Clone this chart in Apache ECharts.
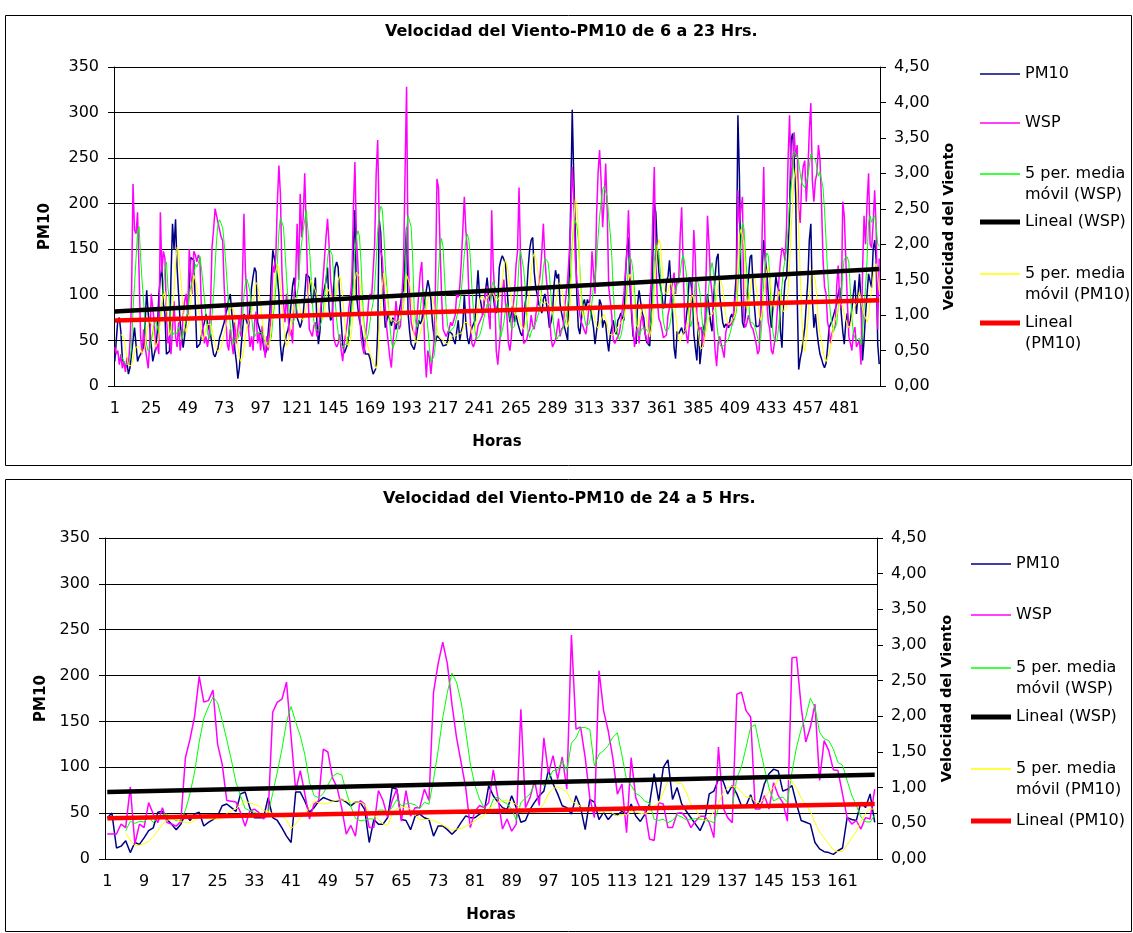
<!DOCTYPE html>
<html>
<head>
<meta charset="utf-8">
<title>Velocidad del Viento-PM10</title>
<script src="https://cdn.jsdelivr.net/npm/echarts@6/dist/echarts.min.js"></script>
<style>
  html, body { margin: 0; padding: 0; background: #fff; }
  #chart { width: 1133px; height: 933px; }
</style>
</head>
<body>
<div id="chart"></div>
<script>
// ---- data: 6 a 23 Hrs (504 horas) ----
var pm10Top = [
  27,50,72,75,60,30,24,20,25,13, 20,35,50,64,45,27,32,35,38,42,
  70,105,80,64,45,27,35,42,60,100, 119,130,90,79,35,36,38,120,178,150,
  183,130,101,70,55,42,55,72,80,110, 141,140,138,90,42,44,46,55,64,70,
  79,70,62,57,45,35,32,31,42,53, 58,64,70,79,85,95,101,80,64,40,
  27,8,20,40,60,79,75,70,64,85, 108,120,130,125,70,64,58,53,42,35,
  40,42,80,120,149,140,138,120,101,45, 27,42,48,57,62,72,90,110,119,95,
  75,70,64,70,79,100,123,121,119,
  119,90,100,119,70,46,60,90,100,100, 115,130,85,72,75,110,130,136,130,100,
  70,45,36,35,45,56,80,100,150,193, 100,85,72,65,55,42,35,36,35,30,
  20,13,12,20,60,182,168,120,90,64, 72,80,72,66,75,70,62,72,80,90,
  101,105,140,174,80,60,46,44,40,48, 60,72,68,72,83,95,105,116,108,95,
  70,55,48,55,53,52,48,44,42,45, 50,60,62,57,50,46,60,72,50,60,
  66,100,70,53,46,55,64,68,72,100, 127,100,90,78,90,105,119,100,93,108,
  100,85,80,90,130,138,143,145,
  135,110,85,70,80,90,70,78,70,64, 58,55,64,90,101,130,150,160,163,125,
  108,100,90,85,80,95,101,101,80,64, 70,79,110,127,118,123,90,80,72,64,
  57,50,120,200,303,230,170,100,64,57, 72,90,95,85,95,90,85,75,64,46,
  60,72,95,90,64,72,68,50,38,55, 64,72,60,57,72,75,80,75,72,120,
  150,163,110,80,55,50,46,90,105,103, 80,75,57,48,46,44,80,140,200,190,
  150,125,110,100,85,90,115,120,138,110, 80,42,30,60,57,55,64,57,60,75,
  90,119,115,100,57,42,28,70,
  24,40,60,62,75,101,85,70,60,95, 120,140,145,101,85,70,64,68,70,64,
  75,79,72,100,123,297,230,110,70,64, 80,100,120,141,144,110,85,65,64,66,
  80,130,160,140,125,100,80,64,85,100, 120,110,105,60,42,90,115,119,150,190,
  270,277,250,210,100,18,30,38,40,64, 90,115,160,178,95,64,79,60,46,35,
  30,24,20,25,42,64,68,72,78,79, 90,101,108,80,60,46,70,80,64,72,
  85,101,116,79,100,123,93,28,50,79, 101,123,115,108,150,160,138,46,24
]
var wspTop = [
  0.55,0.45,0.5,0.3,0.45,0.25,0.35,0.2,0.4,0.3, 0.6,1.2,2.85,2.2,2.15,2.45,1.6,0.7,0.45,0.8,
  0.55,0.4,0.25,0.6,1.3,1.3,0.9,0.5,0.6,0.45, 2.45,1.6,1.9,1.8,1.0,0.6,0.7,0.45,0.8,1.2,
  0.7,0.55,0.9,0.5,0.65,1.0,1.2,1.3,1.0,1.93, 1.6,1.3,1.9,1.85,1.75,1.85,1.8,1.1,0.8,0.6,
  0.7,0.55,0.7,1.1,1.96,2.2,2.5,2.52,2.3,2.2, 2.1,2.05,1.4,1.0,0.6,0.5,0.8,0.6,0.45,0.9,
  0.6,0.8,1.0,0.7,1.5,2.43,1.6,1.3,0.8,0.55, 0.7,0.5,0.9,1.05,0.6,0.75,0.5,0.85,0.6,0.4,
  0.7,0.5,0.8,1.0,1.7,1.6,1.85,2.6,3.11,2.7, 1.6,1.2,0.9,1.3,1.0,0.7,0.8,0.6,1.3,1.5,
  2.29,1.5,2.71,2.1,2.4,3.0,2.2,1.4,0.8,
  0.8,0.7,0.85,0.9,0.7,0.75,1.0,1.2,1.5,1.8, 2.1,2.36,2.0,1.5,1.3,0.7,0.6,0.55,0.6,0.73,
  0.5,0.35,0.6,0.75,0.9,1.1,1.25,1.5,2.5,3.16, 2.1,1.7,1.1,0.7,0.55,0.45,0.7,0.9,1.2,1.3,
  1.25,1.25,2.0,3.0,3.47,2.3,1.9,1.8,1.4,1.1, 0.8,0.6,0.4,0.26,0.6,0.83,1.2,1.0,0.8,0.85,
  1.3,1.7,3.0,4.22,1.8,1.3,0.9,0.8,0.75,0.7, 1.0,1.3,1.6,1.75,1.2,0.5,0.12,0.5,0.4,0.17,
  0.4,0.6,1.4,2.92,2.8,2.0,1.3,0.8,0.75,0.7, 0.75,0.8,0.9,0.85,0.85,1.0,1.3,1.25,1.4,1.75,
  2.2,2.67,2.2,1.9,1.3,0.9,0.6,0.55,0.55,0.7, 0.85,0.9,0.9,1.0,1.2,1.3,1.4,1.0,0.8,2.48,
  1.7,1.3,0.5,0.3,0.55,0.8,1.3,1.5,
  1.2,1.0,0.6,0.5,0.7,1.1,1.3,1.7,1.9,2.8, 1.8,1.2,0.6,0.6,0.65,0.75,0.8,1.0,0.85,0.8,
  1.0,1.15,1.4,1.6,1.9,2.29,1.8,1.5,1.3,1.0, 0.7,0.55,0.6,0.65,0.8,0.95,0.7,0.8,0.83,1.1,
  1.3,1.5,1.85,2.24,3.09,2.7,1.8,1.5,1.3,1.0, 0.9,0.85,0.78,0.73,0.9,1.1,1.3,1.9,1.9,1.3,
  2.4,3.0,3.33,2.9,2.24,2.6,3.14,2.48,1.4,1.2, 1.0,0.65,0.6,0.58,0.7,0.75,0.9,1.1,1.3,1.6,
  1.9,2.48,1.8,1.1,0.8,0.55,0.75,0.83,0.6,0.9, 1.0,0.83,0.75,0.65,0.6,1.2,1.5,2.38,3.09,1.8,
  1.2,0.95,0.9,0.8,0.68,0.7,0.72,1.0,1.1,1.3, 1.45,1.6,1.3,1.5,1.45,2.1,2.52,1.7,0.9,0.75,
  0.6,0.83,1.1,1.4,2.2,1.8,1.0,0.83,
  0.8,0.83,0.55,0.7,1.5,2.4,2.0,1.5,1.3,0.9, 0.5,0.28,0.6,0.7,0.68,0.5,0.4,0.75,0.85,0.9,
  0.85,0.88,1.0,1.2,1.3,2.76,2.3,2.5,2.67,0.9, 0.83,0.9,1.0,0.9,0.83,0.8,0.7,0.6,0.45,0.5,
  1.1,2.2,3.09,1.8,1.2,0.9,0.8,0.5,0.45,0.6, 0.75,1.1,1.5,1.77,1.95,1.9,1.77,2.24,3.18,3.82,
  2.9,3.1,3.58,3.23,3.4,2.5,2.3,2.9,3.1,3.18, 2.6,3.0,3.6,3.99,2.9,2.6,2.9,3.0,3.4,3.2,
  2.6,1.8,1.4,1.3,0.9,0.8,0.6,0.75,0.8,0.85, 1.4,1.7,1.2,1.1,2.6,2.4,1.8,1.2,0.7,0.6,
  0.5,0.75,0.83,0.55,0.6,0.65,0.3,1.6,2.4,2.0, 2.6,3.0,2.0,1.95,2.3,2.76,2.2,0.8,1.8
]
// lineal trend ends [first hour, last hour]
var trendWspTop = [1.05, 1.65]
var trendPm10Top = [72, 94]

// ---- data: 24 a 5 Hrs (168 horas) ----
var pm10Bot = [
  45,50,12,14,20,7,18,16,23,31, 34,51,52,43,38,32,38,49,42,49,
  51,36,40,43,47,58,60,56,52,71, 73,56,45,45,45,67,45,42,34,25,
  18,73,73,63,51,56,63,67,65,63, 63,65,62,58,62,62,54,18,
  43,38,38,45,78,76,43,42,32,47, 49,45,43,25,36,36,32,27,32,40,
  47,45,45,49,51,80,69,62,56,54, 69,56,40,42,54,62,69,74,97,82,
  71,58,56,49,69,56,32,65,62,43, 51,43,49,48,52,
  49,60,47,41,49,60,93,63,100,108, 65,78,60,52,45,38,31,42,71,74,
  87,85,71,80,71,58,58,70,56,63, 82,93,98,96,74,76,80,60,42,40,
  38,18,11,8,7,5,9,12,45,43, 42,62,56,71,40
]
var wspBot = [
  0.35,0.35,0.35,0.49,0.44,1.01,0.21,0.49,0.44,0.79, 0.63,0.51,0.72,0.51,0.49,0.46,0.53,1.42,1.68,2.0,
  2.56,2.2,2.22,2.37,1.61,1.33,0.82,0.81,0.8,0.65, 0.46,0.67,0.7,0.65,0.56,0.63,2.06,2.2,2.24,2.48,
  1.71,0.96,1.24,0.91,0.56,0.77,0.82,1.54,1.5,1.14, 1.0,0.72,0.35,0.47,0.32,0.82,0.77,
  0.44,0.44,0.96,0.82,0.58,0.82,0.98,0.53,0.96,0.6, 0.72,0.72,0.98,0.82,2.34,2.74,3.04,2.74,2.17,1.7,
  1.35,1.0,0.44,0.67,0.75,0.72,0.79,1.25,0.86,0.42, 0.56,0.39,0.49,2.1,0.72,0.86,1.1,0.75,1.7,1.2,
  1.45,1.12,1.43,0.98,3.14,1.82,1.85,1.42,0.86,0.58, 2.64,2.08,1.8,1.42,0.91,1.05,
  0.37,1.42,0.86,0.7,0.68,0.28,0.26,0.79,0.77,0.44, 0.44,0.64,0.65,0.58,0.44,0.53,0.6,0.6,0.51,0.3,
  1.57,0.72,0.58,0.51,2.31,2.34,2.08,1.99,0.7,0.7, 0.89,0.7,1.07,0.89,0.79,0.53,2.82,2.83,2.13,1.64,
  1.85,2.17,1.1,1.66,1.52,1.25,1.24,0.91,0.58,0.49, 0.54,0.42,0.58,0.56,0.98
]
var trendWspBot = [0.94, 1.18]
var trendPm10Bot = [44.5, 60]

var titles = ['Velocidad del Viento-PM10 de 6 a 23 Hrs.', 'Velocidad del Viento-PM10 de 24 a 5 Hrs.']
var names = ['PM10', 'WSP', '5 per. media móvil (WSP)', 'Lineal (WSP)', '5 per. media móvil (PM10)', 'Lineal (PM10)']
var colors = ['#000080', '#ff00ff', '#00ff00', '#000000', '#ffff00', '#ff0000']

var FONT = 'DejaVu Sans'

function hours (n) {
  var list = []
  for (let i = 1; i <= n; i++) list.push(String(i))
  return list
}

// 5 period moving average, as the spreadsheet trendline does (starts at the 5th point)
function movingAvg (arr, n) {
  return arr.map(function (v, i) {
    if (i < n - 1) return '-'
    var s = 0
    for (let j = i - n + 1; j <= i; j++) s += arr[j]
    return s / n
  })
}

function trend (ends, len) {
  return [[0, ends[0]], [len - 1, ends[1]]]
}

function comma (v) {
  return v.toFixed(2).replace('.', ',')
}

var grids = [
  { left: 114, top: 67, width: 766, height: 319 },
  { left: 105, top: 538, width: 772, height: 321 }
]

function xAxisFor (i, cats, labelEvery) {
  return {
    gridIndex: i,
    type: 'category',
    data: cats,
    boundaryGap: true,
    name: 'Horas',
    nameLocation: 'middle',
    nameGap: 49,
    nameTextStyle: { color: '#000', fontFamily: FONT, fontSize: 15, fontWeight: 'bold' },
    axisLine: { lineStyle: { color: '#000', width: 1 } },
    axisTick: { interval: 0, length: 6, lineStyle: { color: '#000' } },
    axisLabel: { interval: labelEvery - 1, color: '#000', fontFamily: FONT, fontSize: 16, margin: 15 },
    splitLine: { show: false }
  }
}

function leftAxis (i, gap) {
  return {
    gridIndex: i,
    type: 'value',
    min: 0,
    max: 350,
    interval: 50,
    name: 'PM10',
    nameLocation: 'middle',
    nameRotate: 90,
    nameGap: gap,
    nameTextStyle: { color: '#000', fontFamily: FONT, fontSize: 15, fontWeight: 'bold' },
    axisLine: { show: true, lineStyle: { color: '#000' } },
    axisTick: { show: true, length: 6, lineStyle: { color: '#000' } },
    axisLabel: { color: '#000', fontFamily: FONT, fontSize: 16, margin: 15 },
    splitLine: { show: true, lineStyle: { color: '#000', width: 1 } }
  }
}

function rightAxis (i, gap) {
  return {
    gridIndex: i,
    type: 'value',
    position: 'right',
    min: 0,
    max: 4.5,
    interval: 0.5,
    name: 'Velocidad del Viento',
    nameLocation: 'middle',
    nameRotate: 90,
    nameGap: gap,
    nameTextStyle: { color: '#000', fontFamily: FONT, fontSize: 14.5, fontWeight: 'bold' },
    axisLine: { show: true, lineStyle: { color: '#000' } },
    axisTick: { show: true, length: 6, lineStyle: { color: '#000' } },
    axisLabel: { color: '#000', fontFamily: FONT, fontSize: 16, margin: 14, formatter: comma },
    splitLine: { show: false }
  }
}

function line (name, xi, yi, data, color, width, z) {
  return {
    name: name,
    type: 'line',
    xAxisIndex: xi,
    yAxisIndex: yi,
    data: data,
    symbol: 'none',
    z: z,
    connectNulls: true,
    lineStyle: { color: color, width: width },
    itemStyle: { color: color },
    emphasis: { disabled: true }
  }
}

function seriesFor (i, pm10, wsp, tWsp, tPm10) {
  var x = i
  var yl = i * 2
  var yr = i * 2 + 1
  return [
    line(names[0], x, yl, pm10, colors[0], 1.5, 2),
    line(names[1], x, yr, wsp, colors[1], 1.5, 3),
    line(names[2], x, yr, movingAvg(wsp, 5), colors[2], 1, 4),
    line(names[3], x, yr, trend(tWsp, wsp.length), colors[3], 4.5, 6),
    line(names[4], x, yl, movingAvg(pm10, 5), colors[4], 1, 5),
    line(names[5], x, yl, trend(tPm10, pm10.length), colors[5], 4.5, 7)
  ]
}

// legend rows: [series index, y of sample, text shown on first line, second line or null]
var legendTop = [
  [0, 74, 'PM10', null],
  [1, 123, 'WSP', null],
  [2, 174, '5 per. media', 'móvil (WSP)'],
  [3, 222, 'Lineal (WSP)', null],
  [4, 274, '5 per. media', 'móvil (PM10)'],
  [5, 323, 'Lineal', '(PM10)']
]
var legendBot = [
  [0, 564, 'PM10', null],
  [1, 615, 'WSP', null],
  [2, 668, '5 per. media', 'móvil (WSP)'],
  [3, 717, 'Lineal (WSP)', null],
  [4, 769, '5 per. media', 'móvil (PM10)'],
  [5, 821, 'Lineal (PM10)', null]
]

var legends = []
var graphics = [
  { type: 'rect', shape: { x: 5.5, y: 15.5, width: 1126, height: 450 }, style: { fill: 'none', stroke: '#000', lineWidth: 1 } },
  { type: 'rect', shape: { x: 5.5, y: 479.5, width: 1126, height: 452 }, style: { fill: 'none', stroke: '#000', lineWidth: 1 } }
]

function addLegend (rows, left) {
  rows.forEach(function (r) {
    var thick = (r[0] === 3 || r[0] === 5)
    var label = r[2]
    legends.push({
      data: [names[r[0]]],
      left: left,
      top: r[1] - 10.5,
      padding: 0,
      icon: 'rect',
      itemWidth: 40,
      itemHeight: thick ? 5 : 1.5,
      selectedMode: false,
      formatter: function () { return label },
      textStyle: { color: '#000', fontFamily: FONT, fontSize: 16, lineHeight: 21 }
    })
    if (r[3]) {
      graphics.push({
        type: 'text',
        x: left + 45,
        y: r[1] + 21,
        style: { text: r[3], fill: '#000', font: '16px "DejaVu Sans"', verticalAlign: 'middle' }
      })
    }
  })
}
addLegend(legendTop, 980)
addLegend(legendBot, 971)

var chart = echarts.init(document.getElementById('chart'))
chart.setOption({
  animation: false,
  backgroundColor: '#fff',
  title: [
    { text: titles[0], left: 385, top: 24, padding: 0, textStyle: { color: '#000', fontFamily: FONT, fontSize: 16, fontWeight: 'bold' } },
    { text: titles[1], left: 383, top: 491, padding: 0, textStyle: { color: '#000', fontFamily: FONT, fontSize: 16, fontWeight: 'bold' } }
  ],
  grid: grids.map(function (g) {
    return Object.assign({ containLabel: false, outerBoundsMode: 'none' }, g)
  }),
  legend: legends,
  graphic: graphics,
  xAxis: [
    xAxisFor(0, hours(pm10Top.length), 24),
    xAxisFor(1, hours(pm10Bot.length), 8)
  ],
  yAxis: [
    leftAxis(0, 61),
    rightAxis(0, 62),
    leftAxis(1, 52),
    rightAxis(1, 63)
  ],
  series: seriesFor(0, pm10Top, wspTop, trendWspTop, trendPm10Top)
    .concat(seriesFor(1, pm10Bot, wspBot, trendWspBot, trendPm10Bot))
})
</script>
</body>
</html>
